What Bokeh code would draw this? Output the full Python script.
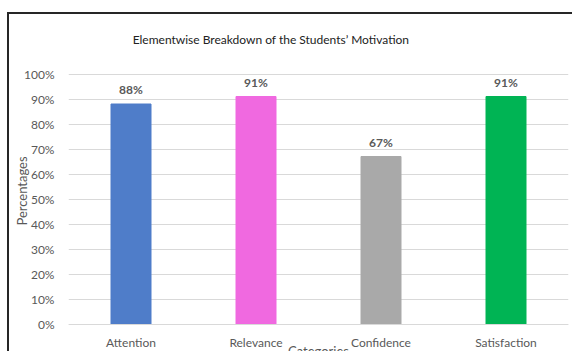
from bokeh.plotting import figure
from bokeh.models import (ColumnDataSource, FactorRange, Range1d, PrintfTickFormatter,
                          FixedTicker, Label)
from bokeh.core.properties import value
from bokeh.embed import file_html
from bokeh.resources import INLINE

categories = ["Attention", "Relevance", "Confidence", "Satisfaction"]
percentages = [88, 91, 67, 91]
colors = ["#4F7DC9", "#F069E0", "#A9A9A9", "#00B454"]
y_ticks = [0, 10, 20, 30, 40, 50, 60, 70, 80, 90, 100]
title_text = "Elementwise Breakdown of the Students\u2019 Motivation"
x_title = "Categories"
y_title = "Percentages"

FONT = "Lato"
GRAY = "#595959"

src = ColumnDataSource(dict(cat=categories, val=percentages, col=colors,
                            lab=[f"{v}%" for v in percentages]))

p = figure(width=565, height=339, x_range=FactorRange(*categories, range_padding=0),
           y_range=Range1d(-11.8, 118.2), output_backend="svg", toolbar_location=None,
           min_border_left=59, min_border_right=6, min_border_top=14, min_border_bottom=0)
p.styles = {"margin-left": "7px", "margin-top": "12px",
            "border-left": "2px solid #262626", "border-top": "2px solid #262626"}
p.outline_line_color = None
p.background_fill_color = "white"
p.border_fill_color = "white"

p.vbar(x="cat", top="val", width=0.32, color="col", source=src)
p.text(x="cat", y="val", text="lab", source=src, text_align="center", text_baseline="bottom",
       y_offset=-7, text_font=value(FONT), text_font_size="12px", text_color=GRAY,
       text_font_style="bold")

p.xgrid.grid_line_color = None
p.ygrid.grid_line_color = "#D9D9D9"
p.ygrid.ticker = FixedTicker(ticks=y_ticks)

p.yaxis.ticker = FixedTicker(ticks=y_ticks)
p.yaxis.formatter = PrintfTickFormatter(format="%d%%")
p.yaxis.axis_line_color = None
p.yaxis.major_tick_line_color = None
p.yaxis.minor_tick_line_color = None
p.yaxis.major_tick_out = 0
p.yaxis.major_tick_in = 0
p.yaxis.minor_tick_out = 0
p.yaxis.major_label_standoff = 14
p.yaxis.major_label_text_font = FONT
p.yaxis.major_label_text_font_size = "12px"
p.yaxis.major_label_text_color = GRAY
p.yaxis.axis_label = y_title
p.yaxis.axis_label_standoff = -9
p.yaxis.axis_label_text_font = FONT
p.yaxis.axis_label_text_font_size = "13px"
p.yaxis.axis_label_text_font_style = "normal"
p.yaxis.axis_label_text_color = GRAY

p.xaxis.fixed_location = 0
p.xaxis.axis_line_color = "#D9D9D9"
p.xaxis.major_tick_line_color = None
p.xaxis.minor_tick_line_color = None
p.xaxis.major_label_standoff = 5
p.xaxis.major_label_text_font = FONT
p.xaxis.major_label_text_font_size = "12px"
p.xaxis.major_label_text_color = GRAY

p.add_layout(Label(x=1.62, y=114, text=title_text,
                   text_align="center", text_baseline="middle", text_font=FONT,
                   text_font_size="12px", text_color="#222222"))
p.add_layout(Label(x=2.0, y=-7.4, text=x_title,
                   text_align="center", text_baseline="top", text_font=FONT,
                   text_font_size="13px", text_color=GRAY))

open("out.html", "w").write(file_html(p, INLINE))
